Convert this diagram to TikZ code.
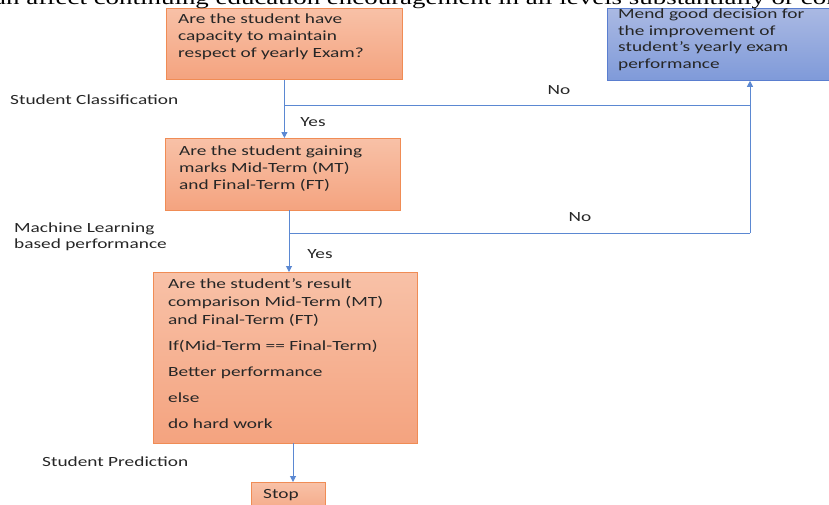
\documentclass[tikz,border=0pt]{standalone}
\usepackage{fontspec}
\setmainfont{Carlito}[FakeStretch=1.38]
\newfontfamily\bodyfont{Liberation Serif}[FakeStretch=1.38]
\usetikzlibrary{arrows.meta,calc,positioning}
\definecolor{orangetop}{HTML}{F8C1A7}
\definecolor{orangebottom}{HTML}{F4A37F}
\definecolor{orangeedge}{HTML}{F08C55}
\definecolor{bluetop}{HTML}{AAB9E3}
\definecolor{bluebottom}{HTML}{7F9AD9}
\definecolor{blueedge}{HTML}{5A7ECF}
\definecolor{flowline}{HTML}{5B88D2}
\definecolor{ink}{HTML}{262626}
\tikzset{
	obox/.style={draw=orangeedge, line width=0.8pt, top color=orangetop, bottom color=orangebottom, anchor=north west, inner sep=0pt},
	bbox/.style={draw=blueedge, line width=0.8pt, top color=bluetop, bottom color=bluebottom, anchor=north west, inner sep=0pt},
	boxtext/.style={anchor=north west, inner sep=0pt, align=left, text=ink, font=\fontsize{14}{17}\selectfont},
	sidetext/.style={anchor=west, inner sep=0pt, align=left, text=ink, font=\fontsize{14}{16}\selectfont},
	flow/.style={draw=flowline, line width=1pt},
	flowarrow/.style={flow, -{Triangle[length=6pt,width=6pt]}}
}

\begin{document}
\begin{tikzpicture}[x=1pt,y=-1pt]
		%%%%% START %%%%%
		\useasboundingbox (0,0) rectangle (829,504);
		\fill[white] (0,0) rectangle (829,504);
		
		% boxes
		\node[obox, minimum width=236pt, minimum height=71pt] (capacity) at (166,8) {};
		\node[bbox, minimum width=230pt, minimum height=72pt] (mend) at (607,8) {};
		\node[obox, minimum width=235pt, minimum height=72pt] (gaining) at (165,138) {};
		\node[obox, minimum width=264pt, minimum height=171pt] (compare) at (153,272) {};
		\node[obox, minimum width=74pt, minimum height=36pt] (stop) at (251,482) {};
		
		\node[boxtext] (capacitytext) at (178,14) {Are the student have\\capacity to maintain\\respect of yearly Exam?};
		\node[boxtext, font=\fontsize{14}{16.5}\selectfont] (mendtext) at (618,9) {Mend good decision for\\the improvement  of\\student’s yearly exam\\performance};
		\node[boxtext] (gainingtext) at (179,146) {Are the student gaining\\marks Mid-Term (MT)\\and Final-Term (FT)};
		\node[boxtext, font=\fontsize{14}{18}\selectfont] (comparetext) at (168,278) {Are the student’s result\\comparison Mid-Term (MT)\\and Final-Term (FT)\\[8pt]If(Mid-Term == Final-Term)\\[8pt]Better performance\\[8pt]else\\[8pt]do hard work};
		\node[boxtext] (stoptext) at (263,489) {Stop};
		
		% connectors
		\coordinate (nojoin) at (750,105);
		\coordinate (nocorner) at (750,233);
		\coordinate (gainout) at (289,210);
		\coordinate (compareout) at (293,443);
		\draw[flowarrow] (capacity.south) -- (capacity.south |- gaining.north);
		\draw[flow] (capacity.south |- nojoin) -- (nojoin);
		\draw[flowarrow] (gainout) -- (gainout |- compare.north);
		\draw[flow] (gainout |- nocorner) -- (nocorner);
		\draw[flowarrow] (nocorner) -- (nocorner |- mend.south);
		\draw[flowarrow] (compareout) -- (compareout |- stop.north);
		
		% branch labels
		\node[sidetext, anchor=center] (no1) at (559,90) {No};
		\node[sidetext, anchor=center] (yes1) at (313,122) {Yes};
		\node[sidetext, anchor=center] (no2) at (580,217) {No};
		\node[sidetext, anchor=center] (yes2) at (320,254) {Yes};
		
		% stage labels
		\node[sidetext] (classification) at (10,100) {Student  Classification};
		\node[sidetext] (mlbased) at (14,237) {Machine Learning\\based performance};
		\node[sidetext] (prediction) at (42,462) {Student Prediction};
		
		% cut line of the page text
		\node[anchor=base west, inner sep=0pt, font=\bodyfont\fontsize{19.5}{22}\selectfont] (pageline) at (-6,4) {an affect continuing education encouragement in all levels substantially or con};
		%%%%% END %%%%%
\end{tikzpicture}
\end{document}
